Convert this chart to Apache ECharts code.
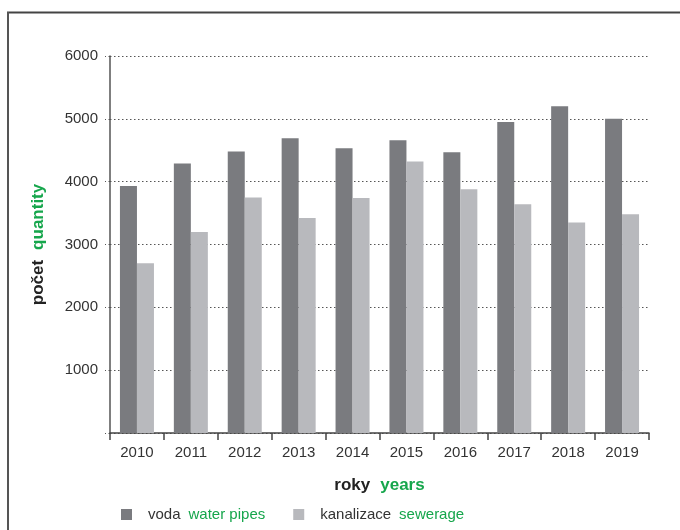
<!DOCTYPE html>
<html><head><meta charset="utf-8">
<script src="https://cdn.jsdelivr.net/npm/echarts@6/dist/echarts.min.js"></script>
<style>html,body{margin:0;padding:0;background:#fff}#c{width:680px;height:530px}</style>
</head><body><div id="c"></div>
<script>
const years = ['2010','2011','2012','2013','2014','2015','2016','2017','2018','2019'];
const voda = [3930, 4290, 4480, 4690, 4530, 4660, 4470, 4950, 5200, 5000];
const kanalizace = [2700, 3200, 3750, 3420, 3740, 4320, 3880, 3640, 3350, 3480];
const yTicks = [0, 1000, 2000, 3000, 4000, 5000, 6000];

const FONT = '"Liberation Sans", Arial, sans-serif';
const GREEN = '#16a64c';
const TXT = '#333333';
const chart = echarts.init(document.getElementById('c'));
chart.setOption({
  animation: false,
  textStyle: { fontFamily: FONT },
  graphic: [
    { type: 'line', shape: { x1: 7, y1: 12.5, x2: 680, y2: 12.5 }, style: { stroke: '#444', lineWidth: 2 } },
    { type: 'line', shape: { x1: 8, y1: 12, x2: 8, y2: 530 }, style: { stroke: '#555', lineWidth: 2 } }
  ],
  grid: { left: 110, right: 31, top: 56, bottom: 97 },
  legend: {
    left: 116, top: 502,
    itemWidth: 11, itemHeight: 11, itemGap: 28,
    icon: 'rect',
    data: [
      { name: 'voda', itemStyle: { color: '#7a7b7f' } },
      { name: 'kanalizace', itemStyle: { color: '#b8b9bd' } }
    ],
    formatter: function (n) {
      return n === 'voda' ? '{a|voda}{b|water pipes}' : '{a|kanalizace}{b|sewerage}';
    },
    textStyle: {
      fontSize: 15, color: TXT, fontFamily: FONT,
      rich: {
        a: { fontSize: 15, color: TXT, fontFamily: FONT, padding: [0, 0, 0, 11] },
        b: { fontSize: 15, color: GREEN, fontFamily: FONT, padding: [0, 0, 0, 8] }
      }
    }
  },
  xAxis: {
    type: 'category',
    data: years,
    name: '{a|roky}{b|years}',
    nameLocation: 'middle',
    nameGap: 44,
    nameTextStyle: {
      rich: {
        a: { fontSize: 17, fontWeight: 'bold', color: '#222', fontFamily: FONT },
        b: { fontSize: 17, fontWeight: 'bold', color: GREEN, fontFamily: FONT, padding: [0, 0, 0, 10] }
      }
    },
    axisLine: { lineStyle: { color: '#444', width: 1.5 } },
    axisTick: { show: true, length: 7, lineStyle: { color: '#444', width: 1.5 } },
    axisLabel: { fontSize: 15, color: TXT, margin: 12, fontFamily: FONT }
  },
  yAxis: {
    type: 'value',
    min: 0, max: 6000, interval: 1000,
    name: '{a|počet}{b|quantity}',
    nameLocation: 'middle',
    nameGap: 63,
    nameRotate: 90,
    nameTextStyle: {
      rich: {
        a: { fontSize: 17, fontWeight: 'bold', color: '#222', fontFamily: FONT },
        b: { fontSize: 17, fontWeight: 'bold', color: GREEN, fontFamily: FONT, padding: [0, 0, 0, 10] }
      }
    },
    axisLine: { show: true, lineStyle: { color: '#555', width: 1.5 } },
    axisTick: { show: true, length: 5, lineStyle: { color: '#555', type: [1.5, 2.5] } },
    axisLabel: {
      fontSize: 15, color: TXT, margin: 12, fontFamily: FONT,
      formatter: function (v) { return v === 0 ? '' : (yTicks.indexOf(v) >= 0 ? String(v) : ''); }
    },
    splitLine: { show: true, lineStyle: { color: '#555', width: 1, type: [1.5, 2.5] } }
  },
  series: [
    { name: 'voda', type: 'bar', data: voda, barWidth: 17, barGap: '0%', itemStyle: { color: '#7a7b7f' } },
    { name: 'kanalizace', type: 'bar', data: kanalizace, barWidth: 17, itemStyle: { color: '#b8b9bd' } }
  ]
});
</script></body></html>
